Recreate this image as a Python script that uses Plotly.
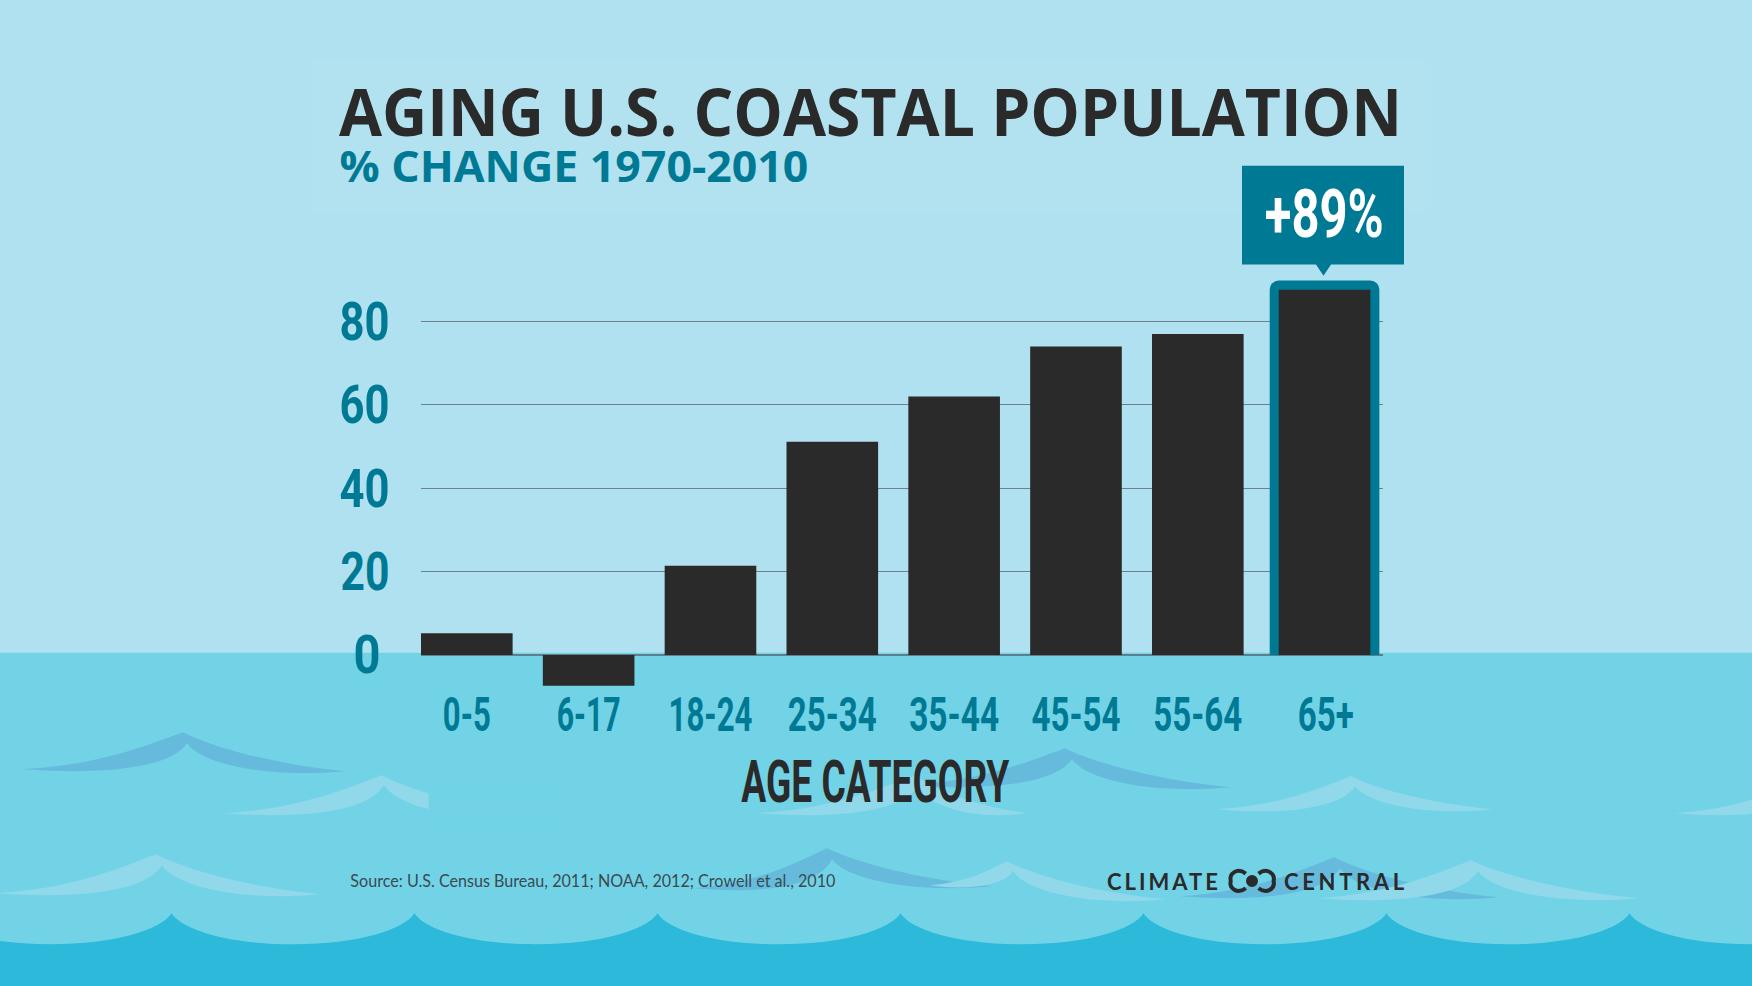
import json
import plotly.graph_objects as go

age_categories = ["0-5", "6-17", "18-24", "25-34", "35-44", "45-54", "55-64", "65+"]
pct_change = [5.2, -7.4, 21.4, 51.1, 62.0, 74.0, 77.0, 87.6]
highlight_frame_top = [89.8]
y_ticks = [0, 20, 40, 60, 80]
callout_label = "+89%"
chart_title = "AGING U.S. COASTAL POPULATION"
chart_subtitle = "% CHANGE 1970-2010"
x_title = "AGE CATEGORY"
source_text = "Source: U.S. Census Bureau, 2011; NOAA, 2012; Crowell et al., 2010"

W, H = 1752, 986
L, R = 421.0, 1383.0
T, B = 238.2, 686.9
SKY, WATER, DEEP = "#B0E1F0", "#72D3E7", "#2DB9D9"
TEAL, DARK = "#007A94", "#2A2A2A"
WAVE_D, WAVE_L = "#66BBDD", "#90D8EA"
HEAD = "Open Sans"
TICK = "Roboto"


def px(x):
    return (x - L) / (R - L)


def py(y):
    return 1 - (y - T) / (B - T)


def P(x, y):
    return f"{px(x):.5f},{py(y):.5f}"


def fill_shape(path, color, layer="below", **kw):
    return dict(type="path", xref="paper", yref="paper", path=path,
                fillcolor=color, line=dict(width=0), layer=layer, **kw)


def crest(left, peak, right, notch, color):
    lx, ly = left
    px_, py_ = peak
    rx, ry = right
    nx, ny = notch
    d = (f"M{P(lx, ly)} "
         f"C{P(lx + (px_ - lx) * .5, ly - (ly - py_) * .12)} {P(px_ - (px_ - lx) * .2, py_ + (ly - py_) * .3)} {P(px_, py_)} "
         f"C{P(px_ + (rx - px_) * .14, py_ + (ry - py_) * .3)} {P(px_ + (rx - px_) * .5, ry - (ry - py_) * .2)} {P(rx, ry)} "
         f"C{P(px_ + (rx - px_) * .55, ry + 7)} {P(nx + (rx - nx) * .1, ny + (ry - ny) * .8)} {P(nx, ny)} "
         f"C{P(nx - (nx - lx) * .1, ny + (ly - ny) * .95)} {P(lx + (nx - lx) * .5, ly + 6)} {P(lx, ly)} Z")
    return fill_shape(d, color)


shapes = []
# title glow, water
shapes.append(fill_shape(f"M{P(312, 60)} L{P(1430, 60)} L{P(1430, 212)} L{P(312, 212)} Z", "#B2E2F0"))
shapes.append(fill_shape(f"M{P(0, 652.7)} L{P(W, 652.7)} L{P(W, H)} L{P(0, H)} Z", WATER))

# small crests (left tip, peak, right tip, notch)
for left, peak, right, notch, col in [
    ((23, 769), (183, 732), (345, 771), (187, 743), WAVE_D),
    ((907, 785), (1065, 748), (1231, 787), (1072, 759), WAVE_D),
    ((693, 888), (827, 848), (993, 886), (832, 859), WAVE_D),
    ((1180, 896), (1334, 857), (1499, 897), (1340, 868), WAVE_D),
    ((223, 813), (382, 775), (540, 815), (384, 785), WAVE_L),
    ((757, 813), (915, 775), (1027, 813), (918, 786), WAVE_L),
    ((1217, 809), (1351, 776), (1493, 809), (1355, 786), WAVE_L),
    ((1675, 813), (1815, 775), (1950, 813), (1819, 786), WAVE_L),
    ((-4, 893), (156, 854), (321, 894), (162, 865), WAVE_L),
    ((930, 885), (1007, 861), (1166, 899), (1013, 871), WAVE_L),
    ((1317, 898), (1471, 860), (1639, 898), (1478, 871), WAVE_L),
]:
    shapes.append(crest(left, peak, right, notch, col))
# hide tail of the crest that is cut off in the picture
shapes.append(fill_shape(f"M{P(428.5, 785)} L{P(560, 785)} L{P(560, 825)} L{P(428.5, 825)} Z", WATER))

# scalloped deep water
period = 243.0
start = 171.5 - 2 * period
d = f"M{P(start, 913)} "
x = start
while x < W + period:
    d += (f"C{P(x + 10, 929)} {P(x + 55, 944)} {P(x + period / 2, 944)} "
          f"C{P(x + period - 55, 944)} {P(x + period - 10, 929)} {P(x + period, 913)} ")
    x += period
d += f"L{P(x, H + 5)} L{P(start, H + 5)} Z"
shapes.append(fill_shape(d, DEEP))

# callout box with pointer
shapes.append(fill_shape(
    f"M{P(1242, 166)} L{P(1404, 166)} L{P(1404, 264.7)} L{P(1331, 264.7)} L{P(1323.5, 276)} "
    f"L{P(1316, 264.7)} L{P(1242, 264.7)} Z", TEAL))

# logo mark
cy = 880.7
for c, side in [(1240.0, -1), (1264.3, 1)]:
    r = 9.3
    path = (f"M{P(c - side * 5.8, cy - 7.3)} C{P(c + side * 3, cy - 14)} {P(c + side * 11, cy - 7)} {P(c + side * r, cy)} "
            f"C{P(c + side * 11, cy + 7)} {P(c + side * 3, cy + 14)} {P(c - side * 5.8, cy + 7.3)}")
    shapes.append(dict(type="path", xref="paper", yref="paper", path=path,
                       line=dict(color=DARK, width=4), layer="above"))
shapes.append(dict(type="circle", xref="paper", yref="paper", layer="above",
                   x0=px(1246), x1=px(1258), y0=py(cy + 6), y1=py(cy - 6),
                   fillcolor=DARK, line=dict(width=0)))


def note(text, x, y, size, color, family=TICK, weight=700):
    return dict(text=text, xref="paper", yref="paper",
                x=px(x), y=py(y), xanchor="center", yanchor="middle", showarrow=False,
                font=dict(family=family, size=size, color=color, weight=weight))


annotations = [
    note(chart_subtitle, 573.5, 166, 43, TEAL, family=HEAD),
    note(callout_label, 1324, 215, 66, "#FFFFFF"),
    note(x_title, 876, 781, 60, DARK),
    note(source_text, 592.5, 880, 18, "#3A4A50", family="Lato", weight=400),
    note("CLIMATE", 1162.5, 881, 22, DARK, family="Lato"),
    note("CENTRAL", 1344, 881, 22, DARK, family="Lato"),
]

fig = go.Figure()
fig.add_trace(go.Bar(x=age_categories[-1:], y=highlight_frame_top, width=0.9, offset=-0.41,
                     marker=dict(color=TEAL, cornerradius=9, line=dict(width=0)), name="65+ highlight"))
fig.add_trace(go.Bar(x=age_categories, y=pct_change, width=0.752,
                     offset=[-0.376] * 7 + [-0.336],
                     marker=dict(color=DARK, line=dict(width=0)), name="% change"))

fig.update_layout(
    width=W, height=H, autosize=False, barmode="overlay", showlegend=False,
    paper_bgcolor=SKY, plot_bgcolor="rgba(0,0,0,0)",
    margin=dict(l=L, r=W - R, t=T, b=H - B, pad=0),
    title=dict(text=chart_title, xref="container", x=339 / W, xanchor="left",
               yref="container", y=1 - 113 / H, yanchor="middle",
               font=dict(family=HEAD, size=67, color=DARK, weight=700)),
    shapes=shapes, annotations=annotations,
    xaxis=dict(type="category", categoryorder="array", categoryarray=age_categories,
               range=[-0.376, 7.52], tickmode="array",
               tickvals=[0, 1, 2, 3, 4, 5, 6, 7.05], ticktext=age_categories,
               showgrid=False, zeroline=False, showline=False, automargin=False,
               ticks="outside", ticklen=4, tickcolor="rgba(0,0,0,0)", ticklabelstandoff=-19,
               tickfont=dict(family=TICK, size=48, color=TEAL, weight=700), tickangle=0),
    yaxis=dict(range=[-7.7, 100], tickmode="array", tickvals=y_ticks,
               showgrid=True, gridcolor="#6F828C", gridwidth=1,
               zeroline=True, zerolinecolor="#5F7F8C", zerolinewidth=2,
               showline=False, automargin=False,
               ticks="outside", ticklen=20, tickcolor="rgba(0,0,0,0)",
               tickfont=dict(family=TICK, size=53, color=TEAL, weight=700)),
)
for t in fig.data:
    t.hoverinfo = "skip"

# condensed lettering of the original: text width fitted per string
fit = {
    chart_title: [1063, "spacingAndGlyphs", 0],
    chart_subtitle: [469, "spacingAndGlyphs", 0],
    callout_label: [119, "spacingAndGlyphs", 0],
    x_title: [268, "spacingAndGlyphs", 0],
    source_text: [485, "spacingAndGlyphs", 0],
    "CLIMATE": [111, "spacing", 0],
    "CENTRAL": [120, "spacing", 0],
    "0-5": [48, "spacingAndGlyphs", 0],
    "6-17": [64, "spacingAndGlyphs", 0],
    "18-24": [84, "spacingAndGlyphs", 0],
    "25-34": [89, "spacingAndGlyphs", 0],
    "35-44": [90, "spacingAndGlyphs", 0],
    "45-54": [89, "spacingAndGlyphs", 0],
    "55-64": [89, "spacingAndGlyphs", 0],
    "65+": [56, "spacingAndGlyphs", 0],
    "80": [50, "spacingAndGlyphs", 0],
    "60": [50, "spacingAndGlyphs", 0],
    "40": [50, "spacingAndGlyphs", 0],
    "20": [49, "spacingAndGlyphs", 0],
    "0": [27, "spacingAndGlyphs", -9],
}
post = """
document.body.style.margin='0';
(function(){
  var fit = %s;
  function apply(){
    document.querySelectorAll('svg text').forEach(function(t){
      var f = fit[t.textContent.trim()];
      if(!f) return;
      t.setAttribute('textLength', f[0]);
      t.setAttribute('lengthAdjust', f[1]);
      if(f[2]) t.setAttribute('dx', f[2]);
    });
  }
  apply();
  setTimeout(apply, 50);
  setTimeout(apply, 400);
})();
""" % json.dumps(fit)

fig.write_html("out.html", config=dict(displayModeBar=False), post_script=post)
